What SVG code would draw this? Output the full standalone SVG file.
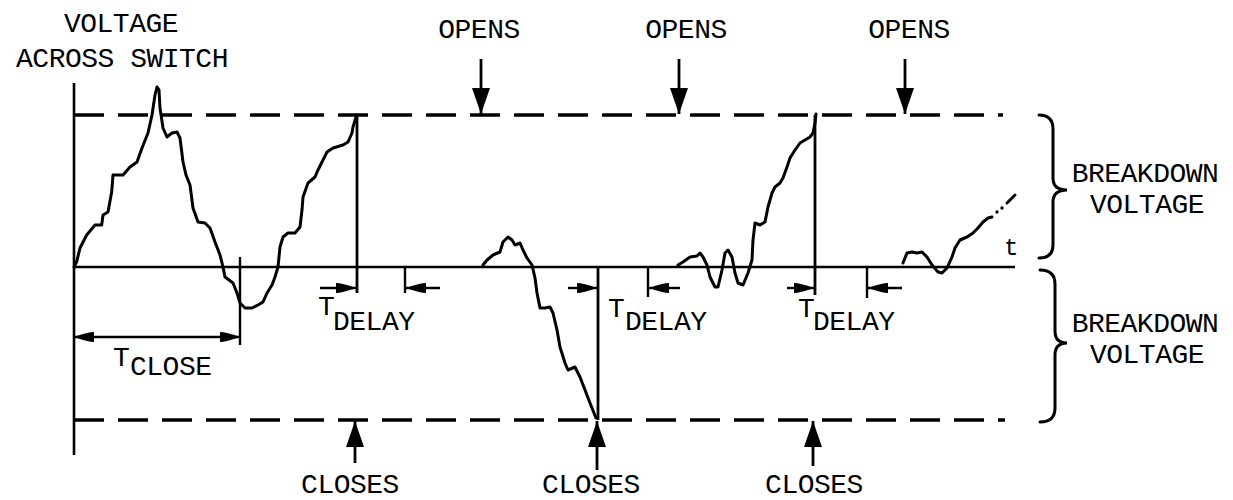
<svg xmlns="http://www.w3.org/2000/svg" width="1233" height="500" viewBox="0 0 1233 500">
  <style>
    .txt { font-family: "Liberation Mono", "DejaVu Sans Mono", monospace; font-size: 28px; fill: #000; letter-spacing: -0.5px; }
    .mid { text-anchor: middle; }
    .axis { stroke: #000; stroke-width: 2.6; fill: none; }
    .dash { stroke: #000; stroke-width: 3.5; fill: none; stroke-dasharray: 30 14; }
    .wave { stroke: #000; stroke-width: 3; fill: none; stroke-linejoin: round; stroke-linecap: round; }
    .edge { stroke: #000; stroke-width: 2.8; fill: none; }
    .dim { stroke: #000; stroke-width: 2.4; fill: none; }
    .ptr { stroke: #000; stroke-width: 2.8; fill: none; }
    .brace { stroke: #000; stroke-width: 3; fill: none; stroke-linecap: round; }
  </style>
  <defs>
    <marker id="small" markerUnits="userSpaceOnUse" markerWidth="20" markerHeight="12" refX="20" refY="6" orient="auto-start-reverse">
      <path d="M0,1 Q6,1 20,6 Q6,11 0,11 Z" fill="#000"/>
    </marker>
    <marker id="big" markerUnits="userSpaceOnUse" markerWidth="26" markerHeight="18" refX="26" refY="9" orient="auto">
      <path d="M0,0 L26,9 L0,18 Z" fill="#000"/>
    </marker>
  </defs>

  <rect width="1233" height="500" fill="#fff"/>

  <!-- axes -->
  <g id="axes">
    <line class="axis" x1="74" y1="83" x2="74" y2="455"/>
    <line class="axis" x1="74" y1="267" x2="1015" y2="267"/>
    <text class="txt" x="1004" y="255" style="font-size:24px">t</text>
  </g>

  <!-- breakdown thresholds -->
  <g id="thresholds">
    <line class="dash" x1="74" y1="115" x2="1003" y2="115"/>
    <line class="dash" x1="74" y1="420" x2="1005" y2="420"/>
  </g>

  <!-- switch voltage trace -->
  <g id="waveform">
    <path class="wave" d="M74,267 L76.7,261.7 L80,248 L86.7,235 L95,225 L101.7,225 L103,215 L108,212 L111.7,191.7 L113,175 L118,175 L123,175 L130,167 L137,162 L142,148 L148,133 L152,115 L155,95 L157,87 L159,90 L160,108 L163,128 L167,137 L172,133 L177,132 L180,138 L183,162 L186,175 L190,185 L193,208 L198,222 L205,223 L210,228 L215,242 L220,255 L223,267 L225,277 L233,283 L237,293 L240,303 L245,308 L252,308 L258,305 L263,302 L267,293 L272,285 L275,277 L278,267 L280,247 L283,237 L288,233 L295,233 L300,227 L302,210 L303,197 L308,183 L315,177 L318,170 L323,160 L327,152 L333,148 L343,145 L348,142 L352,133 L353,127 L356,117 L357,115"/>
    <path class="wave" d="M483,265 L487,260 L493,255 L500,252 L503,242 L508,237 L512,240 L515,245 L520,243 L523,250 L527,258 L532,265 L535,278 L537,293 L540,308 L545,308 L550,307 L553,313 L557,330 L560,347 L565,363 L568,370 L575,367 L580,377 L585,390 L590,403 L596,418"/>
    <path class="wave" d="M678,265 L683,262 L690,257 L697,256 L700,253 L703,257 L707,265 L710,277 L715,287 L718,287 L722,270 L725,253 L728,250 L732,257 L735,273 L738,283 L743,285 L748,273 L752,260 L753,240 L755,223 L760,225 L765,222 L768,207 L772,193 L775,187 L780,183 L783,178 L787,167 L790,158 L795,150 L800,143 L805,140 L810,137 L813,133 L815,123 L816,114"/>
    <path class="wave" d="M903,263 L907,253 L912,252 L917,253 L922,252 L927,257 L932,265 L938,272 L942,273 L947,268 L952,257 L955,248 L960,240 L967,237 L973,233 L978,228 L983,222 L988,218 L992,217"/>
    <circle cx="997" cy="212" r="1.7" fill="#000"/>
    <circle cx="1002" cy="208" r="1.7" fill="#000"/>
    <line class="wave" x1="1007" y1="203" x2="1015" y2="195"/>
    <!-- switching edges -->
    <line class="edge" x1="357" y1="115" x2="357" y2="293"/>
    <line class="edge" x1="598" y1="267" x2="598" y2="420"/>
    <line class="edge" x1="815" y1="115" x2="815" y2="295"/>
  </g>

  <!-- arrows and dimension marks -->
  <g id="connectors">
    <line class="dim" x1="240" y1="257" x2="240" y2="345"/>
    <line class="dim" x1="74" y1="337" x2="240" y2="337" marker-start="url(#small)" marker-end="url(#small)"/>
    <line class="dim" x1="405" y1="267" x2="405" y2="293"/>
    <line class="dim" x1="648" y1="267" x2="648" y2="297"/>
    <line class="dim" x1="867" y1="267" x2="867" y2="298"/>
    <line class="dim" x1="320" y1="288" x2="356" y2="288" marker-end="url(#small)"/>
    <line class="dim" x1="440" y1="288" x2="406" y2="288" marker-end="url(#small)"/>
    <line class="dim" x1="568" y1="288" x2="597" y2="288" marker-end="url(#small)"/>
    <line class="dim" x1="680" y1="288" x2="649" y2="288" marker-end="url(#small)"/>
    <line class="dim" x1="787" y1="288" x2="814" y2="288" marker-end="url(#small)"/>
    <line class="dim" x1="902" y1="288" x2="868" y2="288" marker-end="url(#small)"/>
    <line class="ptr" x1="481" y1="59" x2="481" y2="114" marker-end="url(#big)"/>
    <line class="ptr" x1="679" y1="59" x2="679" y2="114" marker-end="url(#big)"/>
    <line class="ptr" x1="905" y1="59" x2="905" y2="114" marker-end="url(#big)"/>
    <line class="ptr" x1="355" y1="463" x2="355" y2="421" marker-end="url(#big)"/>
    <line class="ptr" x1="597" y1="470" x2="597" y2="421" marker-end="url(#big)"/>
    <line class="ptr" x1="813" y1="466" x2="813" y2="421" marker-end="url(#big)"/>
  </g>

  <g id="label-voltage">
    <text class="txt mid" x="121" y="32">VOLTAGE</text>
    <text class="txt mid" x="122" y="67">ACROSS SWITCH</text>
  </g>

  <g id="label-opens-1"><text class="txt mid" x="479" y="38">OPENS</text></g>
  <g id="label-opens-2"><text class="txt mid" x="686" y="38">OPENS</text></g>
  <g id="label-opens-3"><text class="txt mid" x="909" y="38">OPENS</text></g>

  <g id="label-closes-1"><text class="txt mid" x="350" y="493">CLOSES</text></g>
  <g id="label-closes-2"><text class="txt mid" x="591" y="493">CLOSES</text></g>
  <g id="label-closes-3"><text class="txt mid" x="814" y="493">CLOSES</text></g>

  <g id="label-tclose">
    <text class="txt" x="113" y="366">T</text>
    <text class="txt" x="130" y="375">CLOSE</text>
  </g>
  <g id="label-tdelay-1">
    <text class="txt" x="318" y="315">T</text>
    <text class="txt" x="333" y="330">DELAY</text>
  </g>
  <g id="label-tdelay-2">
    <text class="txt" x="608" y="317">T</text>
    <text class="txt" x="625" y="330">DELAY</text>
  </g>
  <g id="label-tdelay-3">
    <text class="txt" x="798" y="317">T</text>
    <text class="txt" x="813" y="330">DELAY</text>
  </g>

  <g id="breakdown-upper">
    <path class="brace" d="M1039,115 Q1053,115 1053,129 L1053,178 Q1053,190 1067,190 Q1053,190 1053,202 L1053,245 Q1053,258 1039,258"/>
    <text class="txt mid" x="1145" y="182">BREAKDOWN</text>
    <text class="txt mid" x="1147" y="213">VOLTAGE</text>
  </g>
  <g id="breakdown-lower">
    <path class="brace" d="M1040,270 Q1055,270 1055,284 L1055,331 Q1055,343 1067,343 Q1055,343 1055,355 L1055,408 Q1055,422 1040,422"/>
    <text class="txt mid" x="1145" y="332">BREAKDOWN</text>
    <text class="txt mid" x="1147" y="363">VOLTAGE</text>
  </g>
</svg>
